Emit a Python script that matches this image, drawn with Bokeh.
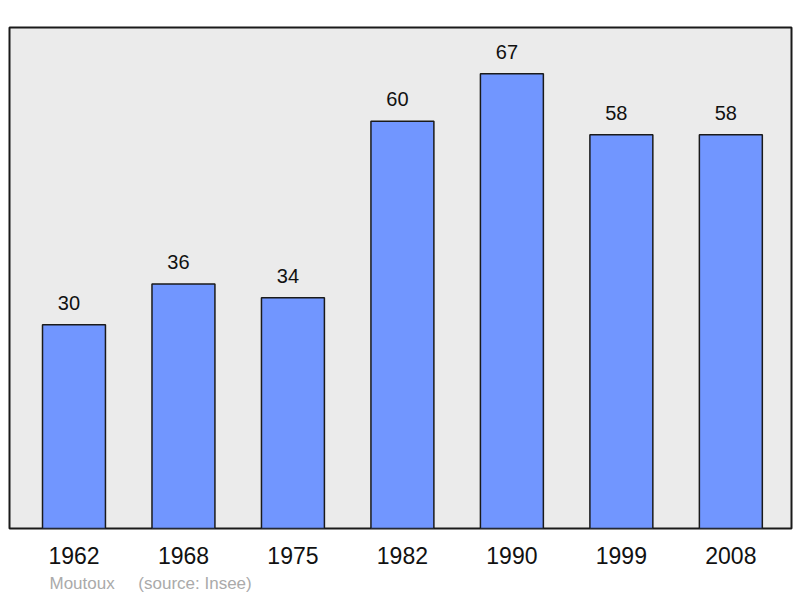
from bokeh.plotting import figure
from bokeh.models import ColumnDataSource, Range1d, Title, FixedTicker
from bokeh.core.properties import value
from bokeh.embed import file_html
from bokeh.resources import INLINE

years = ["1962", "1968", "1975", "1982", "1990", "1999", "2008"]
population = [30, 36, 34, 60, 67, 58, 58]
positions = list(range(len(years)))

src = ColumnDataSource(dict(x=positions, top=population, lbl=[str(v) for v in population]))

p = figure(width=800, height=598, output_backend="svg", toolbar_location=None,
           x_range=Range1d(-0.589, 6.554), y_range=Range1d(0, 73.8),
           min_border_left=9, min_border_right=9, min_border_top=27, min_border_bottom=70)
p.background_fill_color = "#ebebeb"
p.border_fill_color = "white"
p.outline_line_color = "#1a1a1a"
p.outline_line_width = 2
p.xgrid.visible = False
p.ygrid.visible = False
p.yaxis.visible = False

p.vbar(x="x", top="top", width=0.575, bottom=0, source=src,
       fill_color="#7196ff", line_color="#1a1a1a", line_width=1.5)

p.text(x="x", y="top", text="lbl", source=src, text_align="center", text_baseline="alphabetic",
       x_offset=-5, y_offset=-22, text_font=value("Liberation Sans"), text_font_size="20px",
       text_color="#111111")

ax = p.xaxis[0]
ax.ticker = FixedTicker(ticks=positions)
ax.major_label_overrides = {i: y for i, y in enumerate(years)}
ax.axis_line_color = None
ax.major_tick_line_color = None
ax.minor_tick_line_color = None
ax.major_label_text_font = "Liberation Sans"
ax.major_label_text_font_size = "23px"
ax.major_label_text_color = "#111111"
ax.major_label_standoff = 12

footer = Title(text="Moutoux\u00a0\u00a0\u00a0\u00a0\u00a0(source: Insee)", align="left", offset=40,
               text_font="Liberation Sans", text_font_size="17px", text_color="#aaaaaa",
               text_font_style="normal", standoff=11)
p.add_layout(footer, "below")

open("out.html", "w").write(file_html(p, INLINE))
